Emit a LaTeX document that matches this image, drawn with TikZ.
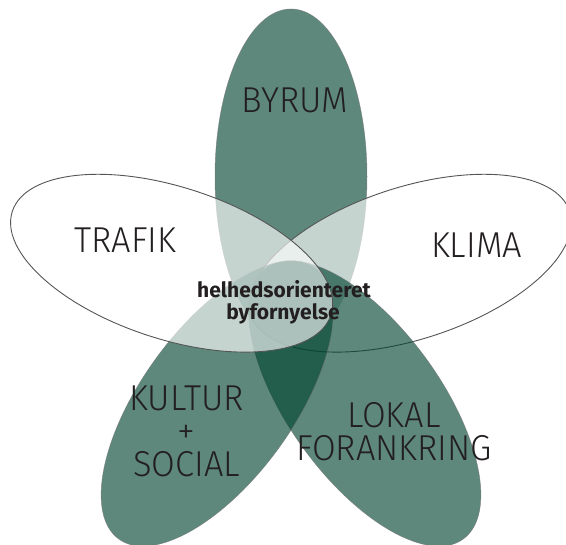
\documentclass[tikz,border=0pt]{standalone}
\usepackage{fontspec}
\newfontfamily\lightfont{Fira Sans Light}
\newfontfamily\heavyfont{Fira Sans Bold}
\definecolor{petal}{RGB}{0,67,47}
\definecolor{ink}{RGB}{35,31,32}
\definecolor{rim}{RGB}{85,85,85}
\newcommand{\narrowtext}[1]{\scalebox{0.955}[1]{#1}}
\tikzset{
  greenpetal/.style={fill=petal, fill opacity=0.63, draw=black!55, draw opacity=0.7, line width=0.5pt},
  whitepetal/.style={fill=white, fill opacity=0.64, draw=rim, draw opacity=1, line width=0.9pt},
  lbl/.style={font=\lightfont\fontsize{36}{33}\selectfont, text=ink, inner sep=0pt, anchor=base, align=center},
  ctr/.style={font=\heavyfont\fontsize{21}{22}\selectfont, text=ink, inner sep=0pt, anchor=base},
}
\begin{document}
\begin{tikzpicture}[x=1pt,y=-1pt]
\useasboundingbox (0,0) rectangle (566,545);
% petals, drawn in order: top, right, lower right, lower left, left
\path[greenpetal, shift={(291,176.5)}, rotate=90] (0,0) ellipse [x radius=167.5, y radius=76];
\path[whitepetal, shift={(410.4,263.2)}, rotate=18] (0,0) ellipse [x radius=167.5, y radius=76];
\path[greenpetal, shift={(364.8,403.5)}, rotate=-54] (0,0) ellipse [x radius=167.5, y radius=76];
\path[greenpetal, shift={(217.2,403.5)}, rotate=54] (0,0) ellipse [x radius=167.5, y radius=76];
\path[whitepetal, shift={(171.6,263.2)}, rotate=-18] (0,0) ellipse [x radius=167.5, y radius=76];
% labels
\node[lbl] (byrum) at (295,113) {\narrowtext{BYRUM}};
\node[lbl] (trafik) at (125.5,253) {\narrowtext{TRAFIK}};
\node[lbl] (klima) at (476.5,258) {\narrowtext{KLIMA}};
\node[lbl, anchor=north] (kultur) at (186.5,386) {\narrowtext{KULTUR}\\+\\\narrowtext{SOCIAL}};
\node[lbl, anchor=north] (lokal) at (394,402) {\narrowtext{LOKAL}\\\narrowtext{FORANKRING}};
\node[ctr] (helhed) at (284,298) {helhedsorienteret};
\node[ctr] (byforn) at (283,320) {byfornyelse};
\end{tikzpicture}
\end{document}
